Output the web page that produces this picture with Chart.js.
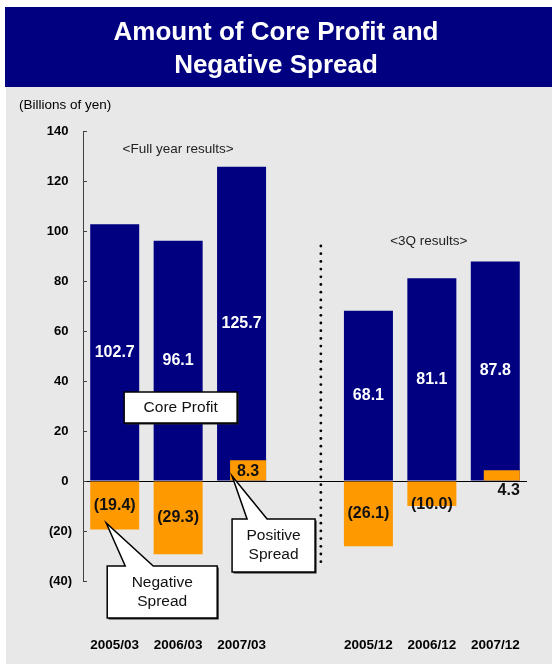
<!DOCTYPE html>
<html>
<head>
<meta charset="utf-8">
<script src="https://cdn.jsdelivr.net/npm/chart.js@4.4.1/dist/chart.umd.min.js"></script>
<style>
  html, body { margin: 0; padding: 0; background: #fff; overflow: hidden; }
  #wrap { position: relative; width: 552px; height: 664px; }
</style>
</head>
<body>
<div id="wrap"><canvas id="chart"></canvas></div>
<script>
// values (billions of yen); slot 3 is the empty gap between the two groups
const categories = ['2005/03', '2006/03', '2007/03', '', '2005/12', '2006/12', '2007/12'];
const coreProfit = [102.7, 96.1, 125.7, null, 68.1, 81.1, 87.8];
const negativeSpread = [-19.4, -29.3, null, null, -26.1, -10.0, null];
const positiveSpread = [null, null, 8.3, null, null, null, 4.3];
const yMin = -40;
const yMax = 140;
const yStep = 20;

const NAVY = '#000080';
const ORANGE = '#FF9900';
const PANEL = '#E8E8E8';
const FONT = "'Liberation Sans', Arial, sans-serif";

function fmt(v) {
  return v < 0 ? '(' + Math.abs(v).toFixed(1) + ')' : v.toFixed(1);
}

function callout(ctx, box, tip, base, lines) {
  // box: {x, y, w, h} top-left, spike leaves the top edge between base[0] and base[1]
  const path = (dx, dy) => {
    ctx.beginPath();
    ctx.moveTo(box.x + dx, box.y + dy);
    if (tip) {
      ctx.lineTo(base[0] + dx, box.y + dy);
      ctx.lineTo(tip.x + dx, tip.y + dy);
      ctx.lineTo(base[1] + dx, box.y + dy);
    }
    ctx.lineTo(box.x + box.w + dx, box.y + dy);
    ctx.lineTo(box.x + box.w + dx, box.y + box.h + dy);
    ctx.lineTo(box.x + dx, box.y + box.h + dy);
    ctx.closePath();
  };
  ctx.save();
  path(1.5, 1.5);
  ctx.fillStyle = '#222';
  ctx.fill();
  path(0, 0);
  ctx.fillStyle = '#fff';
  ctx.fill();
  ctx.lineWidth = 1.5;
  ctx.strokeStyle = '#000';
  ctx.lineJoin = 'miter';
  ctx.stroke();
  ctx.fillStyle = '#111';
  ctx.font = '15.5px ' + FONT;
  ctx.textAlign = 'center';
  ctx.textBaseline = 'middle';
  const cx = box.x + box.w / 2;
  const cy = box.y + box.h / 2;
  lines.forEach((t, i) => {
    ctx.fillText(t, cx, cy + (i - (lines.length - 1) / 2) * 19);
  });
  ctx.restore();
}

const backdrop = {
  id: 'backdrop',
  beforeDraw(chart) {
    const ctx = chart.ctx;
    ctx.save();
    ctx.fillStyle = '#fff';
    ctx.fillRect(0, 0, chart.width, chart.height);
    ctx.fillStyle = PANEL;
    ctx.fillRect(6, 87, chart.width - 6, chart.height - 87);
    ctx.fillStyle = NAVY;
    ctx.fillRect(5, 7, chart.width - 5, 80);
    ctx.fillStyle = '#fff';
    ctx.font = 'bold 26px ' + FONT;
    ctx.textAlign = 'center';
    ctx.textBaseline = 'alphabetic';
    ctx.fillText('Amount of Core Profit and', 276, 40);
    ctx.fillText('Negative Spread', 276, 73);
    ctx.fillStyle = '#000';
    ctx.font = '13.5px ' + FONT;
    ctx.textAlign = 'left';
    ctx.textBaseline = 'middle';
    ctx.fillText('(Billions of yen)', 19, 105);
    ctx.restore();
  }
};

// positive spread bars are narrower and sit against the right edge of the core profit bar
const shiftPositive = {
  id: 'shiftPositive',
  afterDatasetsUpdate(chart) {
    const core = chart.getDatasetMeta(0).data;
    chart.getDatasetMeta(2).data.forEach((el, i) => {
      if (positiveSpread[i] == null || !core[i]) return;
      el.x += (core[i].width - el.width) / 2;
    });
  }
};

const overlay = {
  id: 'overlay',
  afterDatasetsDraw(chart) {
    const ctx = chart.ctx;
    const xs = chart.scales.x;
    const ys = chart.scales.y;
    const area = chart.chartArea;
    const px = i => xs.getPixelForValue(i);
    const step = px(1) - px(0);
    ctx.save();

    // inward tick marks on the value axis
    ctx.strokeStyle = '#404040';
    ctx.lineWidth = 1;
    ys.ticks.forEach(t => {
      const y = Math.round(ys.getPixelForValue(t.value)) + 0.5;
      ctx.beginPath();
      ctx.moveTo(area.left, y);
      ctx.lineTo(area.left + 4, y);
      ctx.stroke();
    });

    // dotted separator between full year and 3Q results
    const sx = px(3) + step * 0.25;
    ctx.fillStyle = '#000';
    for (let y = ys.getPixelForValue(94); y <= ys.getPixelForValue(-34.4); y += 7.7) {
      ctx.beginPath();
      ctx.arc(sx, y, 1.4, 0, Math.PI * 2);
      ctx.fill();
    }

    // group headers
    ctx.fillStyle = '#222';
    ctx.font = '13.5px ' + FONT;
    ctx.textAlign = 'center';
    ctx.textBaseline = 'middle';
    ctx.fillText('<Full year results>', px(1), ys.getPixelForValue(132.8));
    ctx.fillText('<3Q results>', px(5) - 3, ys.getPixelForValue(96));

    // value labels
    ctx.font = 'bold 16px ' + FONT;
    chart.getDatasetMeta(0).data.forEach((bar, i) => {
      if (coreProfit[i] == null) return;
      const p = bar.getProps(['x', 'y', 'base'], true);
      ctx.fillStyle = '#fff';
      ctx.fillText(fmt(coreProfit[i]), p.x, (p.y + p.base) / 2);
    });
    chart.getDatasetMeta(1).data.forEach((bar, i) => {
      if (negativeSpread[i] == null) return;
      const p = bar.getProps(['x', 'y', 'base'], true);
      ctx.fillStyle = '#111';
      ctx.fillText(fmt(negativeSpread[i]), p.x, Math.max((p.y + p.base) / 2, p.base + 23));
    });
    chart.getDatasetMeta(2).data.forEach((bar, i) => {
      if (positiveSpread[i] == null) return;
      const p = bar.getProps(['x', 'y', 'base', 'width'], true);
      ctx.fillStyle = '#111';
      if (p.base - p.y > 15) {
        ctx.textAlign = 'center';
        ctx.fillText(fmt(positiveSpread[i]), p.x, (p.y + p.base) / 2 + 1);
      } else {
        ctx.textAlign = 'right';
        ctx.fillText(fmt(positiveSpread[i]), p.x + p.width / 2, p.base + 10);
      }
    });
    ctx.restore();

    // callouts
    const coreBox = { x: px(1) + 2.5 - 56.5, y: ys.getPixelForValue(29.4) - 15.5, w: 113, h: 31 };
    callout(ctx, coreBox, null, null, ['Core Profit']);

    const negBox = { x: px(0) - 7.5, y: ys.getPixelForValue(-34), w: 110, h: 52 };
    callout(ctx, negBox,
      { x: px(0) - 8.5, y: ys.getPixelForValue(-16.8) },
      [px(0) + 10.5, px(0) + 38.5],
      ['Negative', 'Spread']);

    const posBox = { x: px(2) - 9.5, y: ys.getPixelForValue(-15.2), w: 83, h: 53 };
    callout(ctx, posBox,
      { x: px(2) - 9.5, y: ys.getPixelForValue(2) },
      [px(2) + 5.5, px(2) + 25.5],
      ['Positive', 'Spread']);
  }
};

new Chart(document.getElementById('chart'), {
  type: 'bar',
  data: {
    labels: categories,
    datasets: [
      { label: 'Core Profit', data: coreProfit, backgroundColor: NAVY, order: 2,
        grouped: false, barPercentage: 0.7725, categoryPercentage: 1 },
      { label: 'Negative Spread', data: negativeSpread, backgroundColor: ORANGE, order: 1,
        grouped: false, barPercentage: 0.7725, categoryPercentage: 1 },
      { label: 'Positive Spread', data: positiveSpread, backgroundColor: ORANGE, order: 1,
        grouped: false, barPercentage: 0.5675, categoryPercentage: 1 }
    ]
  },
  options: {
    responsive: true,
    maintainAspectRatio: false,
    animation: false,
    layout: { padding: { top: 131, right: 25, bottom: 0, left: 0 } },
    plugins: {
      legend: { display: false },
      tooltip: { enabled: false }
    },
    scales: {
      x: {
        afterFit: s => { s.height = 83; s.paddingLeft = 0; s.paddingRight = 0; },
        grid: { display: false, drawTicks: false },
        border: { display: false },
        ticks: {
          color: '#000',
          font: { family: FONT, size: 13.5, weight: 'bold' },
          padding: 56,
          maxRotation: 0,
          autoSkip: false
        }
      },
      y: {
        min: yMin,
        max: yMax,
        afterFit: s => { s.width = 83; s.paddingTop = 0; s.paddingBottom = 0; },
        grid: {
          drawTicks: false,
          color: c => (c.tick && c.tick.value === 0 ? '#000' : 'rgba(0,0,0,0)'),
          lineWidth: 1
        },
        border: { display: true, color: '#404040', width: 1 },
        ticks: {
          stepSize: yStep,
          color: '#000',
          padding: 11,
          font: { family: FONT, size: 13, weight: 'bold' },
          callback: v => (v < 0 ? '(' + Math.abs(v) + ')' : v + ' ')
        }
      }
    }
  },
  plugins: [backdrop, shiftPositive, overlay]
});
</script>
</body>
</html>
